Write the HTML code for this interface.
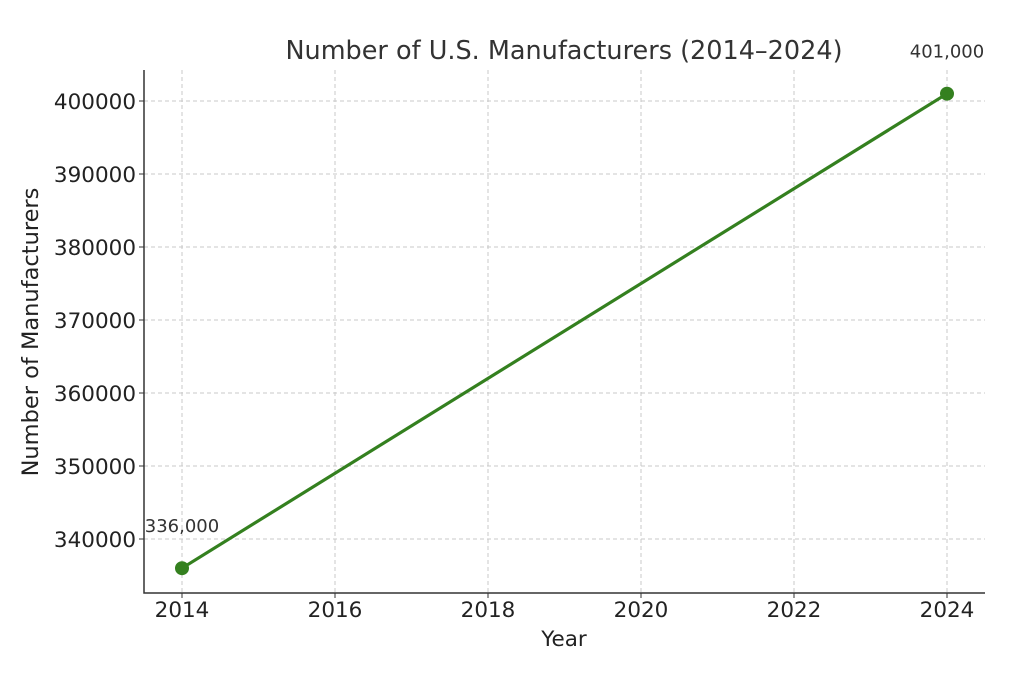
<!DOCTYPE html>
<html><head><meta charset="utf-8"><style>
html,body{margin:0;padding:0;background:#fff;}
svg{display:block;font-family:"DejaVu Sans","Liberation Sans",sans-serif;}
</style></head><body>
<svg id="chart" width="1012" height="676" viewBox="0 0 1012 676">
<rect width="1012" height="676" fill="#fff"/>
<text x="564" y="59" font-size="25.5" fill="#333" text-anchor="middle">Number of U.S. Manufacturers (2014–2024)</text>
<g id="grid"></g>
<g id="axes"></g>
<g id="series"></g>
<text x="564" y="646" font-size="21.5" fill="#222" text-anchor="middle">Year</text>
<text transform="translate(38,332) rotate(-90)" font-size="22.5" fill="#222" text-anchor="middle">Number of Manufacturers</text>
</svg>
<script>
const years = [2014, 2024];
const values = [336000, 401000];
const xTicks = [2014, 2016, 2018, 2020, 2022, 2024];
const yTicks = [340000, 350000, 360000, 370000, 380000, 390000, 400000];
const pointLabels = ["336,000", "401,000"];

const NS = "http://www.w3.org/2000/svg";
const L = 144, R = 985, T = 70, B = 593;
function xs(v){ return 182 + (v - 2014) * (947 - 182) / 10; }
function ys(v){ return 539 - (v - 340000) * (438 / 60000); }
function mk(tag, attrs, parent, text){
  const e = document.createElementNS(NS, tag);
  for (const k in attrs) e.setAttribute(k, attrs[k]);
  if (text !== undefined) e.textContent = text;
  parent.appendChild(e); return e;
}
const grid = document.getElementById('grid');
const axes = document.getElementById('axes');
const series = document.getElementById('series');

xTicks.forEach(t => {
  const x = xs(t);
  const g = mk('line', {x1:x, x2:x, y1:T, y2:B, stroke:'#c8c8c8', 'stroke-dasharray':'4,3', 'stroke-width':1}, grid);
  
  
  mk('line', {x1:x, x2:x, y1:B, y2:B+5, stroke:'#333', 'stroke-width':1}, axes);
  const lb = mk('text', {x:x, y:B+24, 'font-size':21.5, fill:'#222', 'text-anchor':'middle'}, axes, String(t));
  
  
});
yTicks.forEach(t => {
  const y = ys(t);
  const g = mk('line', {x1:L, x2:R, y1:y, y2:y, stroke:'#c8c8c8', 'stroke-dasharray':'4,3', 'stroke-width':1}, grid);
  
  
  mk('line', {x1:L-5, x2:L, y1:y, y2:y, stroke:'#333', 'stroke-width':1}, axes);
  const lb = mk('text', {x:L-8, y:y+8, 'font-size':21.5, fill:'#222', 'text-anchor':'end'}, axes, String(t));
  
  
});
const ax = mk('path', {d:`M${L},${T} V${B} H${R}`, fill:'none', stroke:'#333', 'stroke-width':1.5}, axes);



const pts = years.map((y,i) => xs(y) + ',' + ys(values[i])).join(' ');
const line = mk('polyline', {points:pts, fill:'none', stroke:'#34801f', 'stroke-width':3.2}, series);


years.forEach((yr,i) => {
  const c = mk('circle', {cx:xs(yr), cy:ys(values[i]), r:7, fill:'#34801f'}, series);
  
  
  const t = mk('text', {x:xs(yr), y:ys(values[i]) - 36, 'font-size':18, fill:'#333', 'text-anchor':'middle'}, series, pointLabels[i]);
  
  
});
</script>
</body></html>
